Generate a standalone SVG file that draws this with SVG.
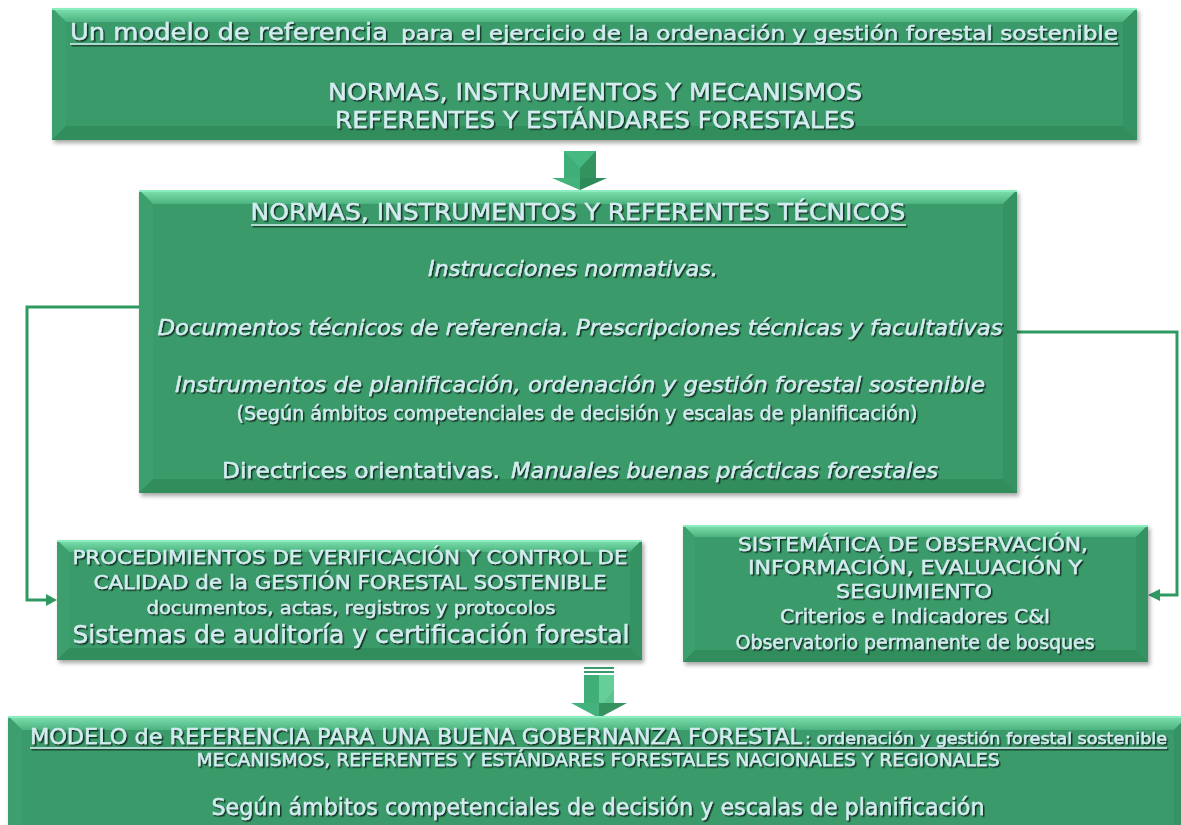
<svg xmlns="http://www.w3.org/2000/svg" width="1181" height="825" viewBox="0 0 1181 825">
<defs>
<style>
.bm{fill:#3a9a69}
.bt{fill:url(#gTop)}
.bl{fill:#3c9f6d}
.br{fill:#369263}
.bb{fill:#318d5d}
.hl{fill:#8aeec0}
.t{fill:#d3ecf0;stroke:#d3ecf0;stroke-width:0.45;font-family:"DejaVu Sans","Liberation Sans",sans-serif}
.i{font-style:italic}
.ul{stroke:#d3ecf0;stroke-width:1.6}
.con{fill:none;stroke:#2e9a60;stroke-width:3}
.ah{fill:#2e9a60}
</style>
<linearGradient id="gTop" x1="0" y1="0" x2="0" y2="1">
<stop offset="0" stop-color="#7fe3b1"/>
<stop offset="1" stop-color="#4cb37f"/>
</linearGradient>
<filter id="sh" x="-5%" y="-5%" width="110%" height="115%">
<feDropShadow dx="2" dy="3" stdDeviation="2" flood-color="#000" flood-opacity="0.35"/>
</filter>
<filter id="ts" x="-5%" y="-20%" width="110%" height="160%">
<feDropShadow dx="1.5" dy="1.5" stdDeviation="0.6" flood-color="#0d2a1a" flood-opacity="0.95"/>
</filter>
</defs>

<g id="connectors">
<polyline class="con" points="139,307 27,307 27,600 48,600"/>
<polygon class="ah" points="57,600 46,594 46,606"/>
<polyline class="con" points="1017,332 1177,332 1177,595 1158,595"/>
<polygon class="ah" points="1148,595 1160,589 1160,601"/>
<g id="arrow1">
<polygon points="564,151 580,151 580,178 564,178" fill="#3fae78"/>
<polygon points="580,151 596,151 596,178 580,178" fill="#33935f"/>
<polygon points="564,151 596,151 580,168" fill="#46b982"/>
<polygon points="552,178 580,178 580,190" fill="#43b27c"/>
<polygon points="580,178 607,178 580,190" fill="#2f8a5a"/>
</g>
<g id="arrow2">
<rect x="584" y="667" width="30" height="2" fill="#3a9a69"/>
<rect x="584" y="671" width="30" height="2" fill="#3a9a69"/>
<polygon points="584,675 599,675 599,703 584,703" fill="#3fae78"/>
<polygon points="599,675 614,675 614,703 599,703" fill="#5cc48f"/>
<polygon points="599,675 614,675 614,690 603,703 599,703" fill="#66cf99"/>
<polygon points="571,703 599,703 599,718" fill="#43b27c"/>
<polygon points="599,703 627,703 599,718" fill="#35925f"/>
</g>
</g>

<g id="box1">
<g filter="url(#sh)">
<rect class="bm" x="52" y="8" width="1085" height="132"/>
<polygon class="bt" points="52,8 1137,8 1123,22 66,22"/>
<polygon class="bl" points="52,8 66,22 66,126 52,140"/>
<polygon class="br" points="1137,8 1137,140 1123,126 1123,22"/>
<polygon class="bb" points="52,140 66,126 1123,126 1137,140"/>
<rect class="bm" x="66" y="22" width="1057" height="104"/>
<rect class="hl" x="52" y="8" width="1085" height="2"/>
</g>
<g filter="url(#ts)">
<text class="t" x="70" y="40" font-size="23" textLength="318" lengthAdjust="spacingAndGlyphs">Un modelo de referencia</text>
<text class="t" x="401" y="40" font-size="20" textLength="717" lengthAdjust="spacingAndGlyphs">para el ejercicio de la ordenación y gestión forestal sostenible</text>
<line class="ul" x1="70" y1="44" x2="1118" y2="44"/>
<text class="t" x="595" y="100" font-size="23" text-anchor="middle" textLength="534" lengthAdjust="spacingAndGlyphs">NORMAS, INSTRUMENTOS Y MECANISMOS</text>
<text class="t" x="595" y="128" font-size="23" text-anchor="middle" textLength="520" lengthAdjust="spacingAndGlyphs">REFERENTES Y ESTÁNDARES FORESTALES</text>
</g>
</g>

<g id="box2">
<g filter="url(#sh)">
<rect class="bm" x="139" y="190" width="878" height="303"/>
<polygon class="bt" points="139,190 1017,190 1003,204 153,204"/>
<polygon class="bl" points="139,190 153,204 153,479 139,493"/>
<polygon class="br" points="1017,190 1017,493 1003,479 1003,204"/>
<polygon class="bb" points="139,493 153,479 1003,479 1017,493"/>
<rect class="bm" x="153" y="204" width="850" height="275"/>
<rect class="hl" x="139" y="190" width="878" height="2"/>
</g>
<g filter="url(#ts)">
<text class="t" x="578" y="220" font-size="23" text-anchor="middle" textLength="655" lengthAdjust="spacingAndGlyphs">NORMAS, INSTRUMENTOS Y REFERENTES TÉCNICOS</text>
<line class="ul" x1="251" y1="225" x2="906" y2="225"/>
<text class="t i" x="573" y="276" font-size="22" text-anchor="middle" textLength="290" lengthAdjust="spacingAndGlyphs">Instrucciones normativas.</text>
<text class="t i" x="580" y="335" font-size="22" text-anchor="middle" textLength="845" lengthAdjust="spacingAndGlyphs">Documentos técnicos de referencia. Prescripciones técnicas y facultativas</text>
<text class="t i" x="580" y="392" font-size="22" text-anchor="middle" textLength="810" lengthAdjust="spacingAndGlyphs">Instrumentos de planificación, ordenación y gestión forestal sostenible</text>
<text class="t" x="577" y="420" font-size="20" text-anchor="middle" textLength="681" lengthAdjust="spacingAndGlyphs">(Según ámbitos competenciales de decisión y escalas de planificación)</text>
<text class="t" x="222" y="478" font-size="22" textLength="278" lengthAdjust="spacingAndGlyphs">Directrices orientativas.</text>
<text class="t i" x="511" y="478" font-size="22" textLength="427" lengthAdjust="spacingAndGlyphs">Manuales buenas prácticas forestales</text>
</g>
</g>

<g id="box3">
<g filter="url(#sh)">
<rect class="bm" x="57" y="540" width="585" height="120"/>
<polygon class="bt" points="57,540 642,540 630,552 69,552"/>
<polygon class="bl" points="57,540 69,552 69,648 57,660"/>
<polygon class="br" points="642,540 642,660 630,648 630,552"/>
<polygon class="bb" points="57,660 69,648 630,648 642,660"/>
<rect class="bm" x="69" y="552" width="561" height="96"/>
<rect class="hl" x="57" y="540" width="585" height="2"/>
</g>
<g filter="url(#ts)">
<text class="t" x="350" y="564" font-size="20" text-anchor="middle" textLength="555" lengthAdjust="spacingAndGlyphs">PROCEDIMIENTOS DE VERIFICACIÓN Y CONTROL DE</text>
<text class="t" x="350" y="589" font-size="20" text-anchor="middle" textLength="513" lengthAdjust="spacingAndGlyphs">CALIDAD de la GESTIÓN FORESTAL SOSTENIBLE</text>
<text class="t" x="351" y="614" font-size="18" text-anchor="middle" textLength="409" lengthAdjust="spacingAndGlyphs">documentos, actas, registros y protocolos</text>
<text class="t" x="351" y="643" font-size="24" text-anchor="middle" textLength="557" lengthAdjust="spacingAndGlyphs">Sistemas de auditoría y certificación forestal</text>
</g>
</g>

<g id="box4">
<g filter="url(#sh)">
<rect class="bm" x="683" y="525" width="465" height="137"/>
<polygon class="bt" points="683,525 1148,525 1136,537 695,537"/>
<polygon class="bl" points="683,525 695,537 695,650 683,662"/>
<polygon class="br" points="1148,525 1148,662 1136,650 1136,537"/>
<polygon class="bb" points="683,662 695,650 1136,650 1148,662"/>
<rect class="bm" x="695" y="537" width="441" height="113"/>
<rect class="hl" x="683" y="525" width="465" height="2"/>
</g>
<g filter="url(#ts)">
<text class="t" x="913" y="551" font-size="20" text-anchor="middle" textLength="350" lengthAdjust="spacingAndGlyphs">SISTEMÁTICA DE OBSERVACIÓN,</text>
<text class="t" x="915" y="574" font-size="20" text-anchor="middle" textLength="334" lengthAdjust="spacingAndGlyphs">INFORMACIÓN, EVALUACIÓN Y</text>
<text class="t" x="914" y="598" font-size="20" text-anchor="middle" textLength="156" lengthAdjust="spacingAndGlyphs">SEGUIMIENTO</text>
<text class="t" x="915" y="623" font-size="20" text-anchor="middle" textLength="270" lengthAdjust="spacingAndGlyphs">Criterios e Indicadores C&amp;I</text>
<text class="t" x="915" y="649" font-size="20" text-anchor="middle" textLength="359" lengthAdjust="spacingAndGlyphs">Observatorio permanente de bosques</text>
</g>
</g>

<g id="box5">
<g filter="url(#sh)">
<rect class="bm" x="8" y="716" width="1180" height="115"/>
<polygon class="bt" points="8,716 1188,716 1174,730 22,730"/>
<polygon class="bl" points="8,716 22,730 22,831 8,831"/>
<polygon class="br" points="1188,716 1188,831 1174,831 1174,730"/>
<rect class="bm" x="22" y="730" width="1152" height="101"/>
<rect class="hl" x="8" y="716" width="1180" height="2"/>
</g>
<g filter="url(#ts)">
<text class="t" x="30" y="744" font-size="21" textLength="772" lengthAdjust="spacingAndGlyphs">MODELO de REFERENCIA PARA UNA BUENA GOBERNANZA FORESTAL</text>
<text class="t" x="805" y="744" font-size="16" textLength="362" lengthAdjust="spacingAndGlyphs">: ordenación y gestión forestal sostenible</text>
<line class="ul" x1="30" y1="748" x2="1167" y2="748"/>
<text class="t" x="598" y="766" font-size="17" text-anchor="middle" textLength="803" lengthAdjust="spacingAndGlyphs">MECANISMOS, REFERENTES Y ESTÁNDARES FORESTALES NACIONALES Y REGIONALES</text>
<text class="t" x="598" y="815" font-size="23" text-anchor="middle" textLength="773" lengthAdjust="spacingAndGlyphs">Según ámbitos competenciales de decisión y escalas de planificación</text>
</g>
</g>
</svg>
